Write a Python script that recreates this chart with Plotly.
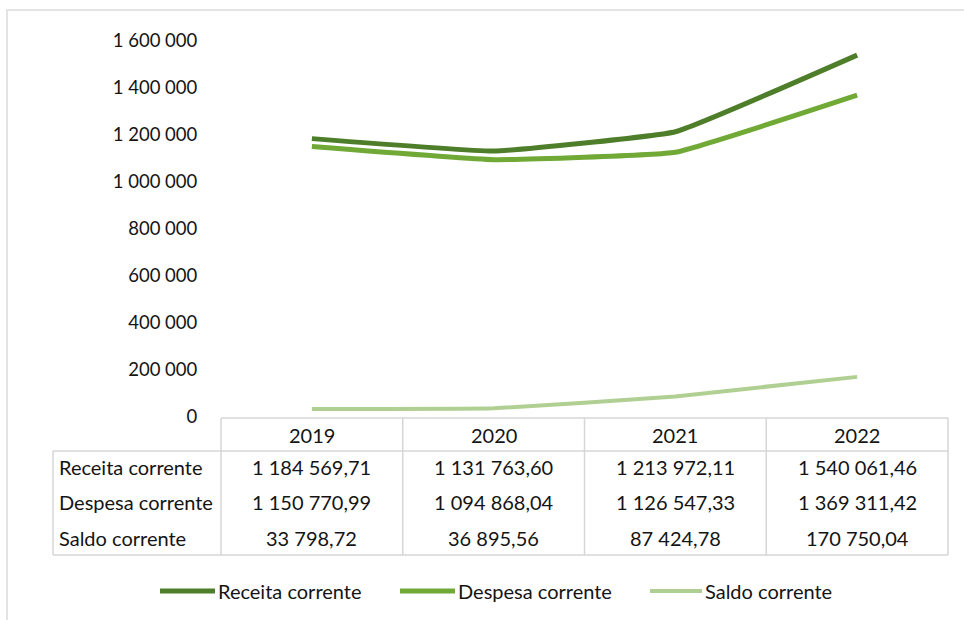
import plotly.graph_objects as go

years = ["2019", "2020", "2021", "2022"]
series_names = ["Receita corrente", "Despesa corrente", "Saldo corrente"]
receita = [1184569.71, 1131763.60, 1213972.11, 1540061.46]
despesa = [1150770.99, 1094868.04, 1126547.33, 1369311.42]
saldo = [33798.72, 36895.56, 87424.78, 170750.04]
y_ticks = [0, 200000, 400000, 600000, 800000, 1000000, 1200000, 1400000, 1600000]
colors = ["#4e7e2a", "#70a935", "#b0cf93"]
widths = [5, 5, 4]

W, H = 964, 620
FONT = "Lato"
GRID = "#d6d6d6"


def px(x):
    return x / W


def py(y):
    return 1 - y / H


def fmt(v):
    s = f"{v:,.2f}"
    s = s.replace(",", " ").replace(".", ",")
    return s


# plot geometry (pixels)
x_left, x_right = 221, 948
y_zero, y_top = 417, 41

fig = go.Figure()
all_series = [receita, despesa, saldo]
for name, vals, c, w in zip(series_names, all_series, colors, widths):
    fig.add_trace(go.Scatter(
        x=list(range(len(years))), y=vals, mode="lines", name=name,
        line=dict(color=c, width=w, shape="spline", smoothing=0.3),
        showlegend=False, hoverinfo="skip",
    ))

shapes = []
annotations = []

# outer frame (top and left visible)
shapes.append(dict(type="rect", xref="paper", yref="paper",
                   x0=px(7), x1=px(975), y0=py(640), y1=py(10),
                   line=dict(color="#dcdcdc", width=1.5)))

# table grid
ncol = len(years)
col_w = (x_right - x_left) / ncol
y_head_top, y_head_bot, y_tab_bot = 418, 451, 555
x_tab_left = 53
line_style = dict(color=GRID, width=1.5)
shapes.append(dict(type="line", xref="paper", yref="paper", x0=px(x_left), x1=px(x_right),
                   y0=py(y_head_top), y1=py(y_head_top), line=line_style))
for yy in (y_head_bot, y_tab_bot):
    shapes.append(dict(type="line", xref="paper", yref="paper", x0=px(x_tab_left), x1=px(x_right),
                       y0=py(yy), y1=py(yy), line=line_style))
for i in range(ncol + 1):
    xx = x_left + i * col_w
    shapes.append(dict(type="line", xref="paper", yref="paper", x0=px(xx), x1=px(xx),
                       y0=py(y_head_top), y1=py(y_tab_bot), line=line_style))
shapes.append(dict(type="line", xref="paper", yref="paper", x0=px(x_tab_left), x1=px(x_tab_left),
                   y0=py(y_head_bot), y1=py(y_tab_bot), line=line_style))

tfont = dict(family=FONT, size=20, color="#141414")
# header
for i, yr in enumerate(years):
    cx = x_left + (i + 0.5) * col_w
    annotations.append(dict(x=px(cx), y=py(435), xref="paper", yref="paper", text=yr,
                            showarrow=False, font=tfont, xanchor="center", yanchor="middle"))
row_y = [467, 502, 538]
for r, (name, vals) in enumerate(zip(series_names, all_series)):
    annotations.append(dict(x=px(57), y=py(row_y[r]), xref="paper", yref="paper", text=name,
                            showarrow=False, font=tfont, xanchor="left", yanchor="middle"))
    for i, v in enumerate(vals):
        cx = x_left + (i + 0.5) * col_w
        annotations.append(dict(x=px(cx), y=py(row_y[r]), xref="paper", yref="paper", text=fmt(v),
                                showarrow=False, font=tfont, xanchor="center", yanchor="middle"))

# legend
leg = [(160, 215), (400, 455), (650, 702)]
for (x0, x1), name, c, w in zip(leg, series_names, colors, widths):
    shapes.append(dict(type="line", xref="paper", yref="paper", x0=px(x0), x1=px(x1),
                       y0=py(591), y1=py(591), line=dict(color=c, width=w)))
    annotations.append(dict(x=px(x1 + 1), y=py(591), xref="paper", yref="paper", text=name,
                            showarrow=False, font=tfont, xanchor="left", yanchor="middle"))

fig.update_layout(
    width=W, height=H,
    autosize=False,
    margin=dict(l=0, r=0, t=0, b=0, pad=0, autoexpand=False),
    paper_bgcolor="white", plot_bgcolor="white",
    separators=", ",
    hovermode=False,
    font=dict(family=FONT, size=18.5, color="#141414"),
    xaxis=dict(domain=[px(x_left), px(x_right)], range=[-0.5, ncol - 0.5], automargin=False,
               showgrid=False, zeroline=False, showticklabels=False, showline=False),
    yaxis=dict(domain=[py(y_zero), py(y_top)], range=[0, 1600000], automargin=False,
               tickvals=y_ticks, tickformat=",d", showgrid=False, zeroline=False,
               showline=False, ticks="outside", ticklen=19, tickcolor="rgba(0,0,0,0)",
               tickfont=dict(family=FONT, size=18.5, color="#141414")),
    shapes=shapes, annotations=annotations,
)

fig.write_html("out.html", config={"displayModeBar": False, "staticPlot": True},
               post_script="document.body.style.margin='0';document.body.style.overflow='hidden';")
